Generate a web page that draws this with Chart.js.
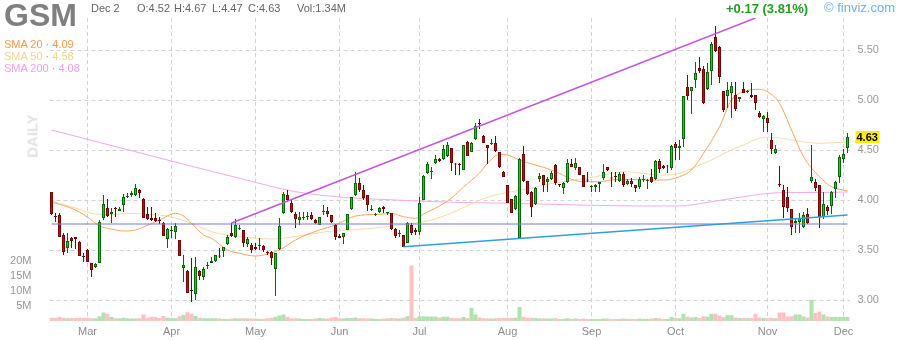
<!DOCTYPE html>
<html>
<head>
<meta charset="utf-8">
<script src="https://cdn.jsdelivr.net/npm/chart.js@4.4.1/dist/chart.umd.min.js"></script>
<style>
html, body { margin: 0; padding: 0; background: #fff; }
#wrap { position: relative; width: 900px; height: 340px; font-family: "Liberation Sans", Arial, sans-serif; overflow: hidden; }
#c { position: absolute; left: 0; top: 0; }
.t { position: absolute; white-space: nowrap; line-height: 1; }
.hd { font-size: 11px; color: #666; top: 3px; }
.sma { font-size: 11px; left: 4px; }
.dot { color: #aaa; }
</style>
</head>
<body>
<div id="wrap">
  <canvas id="c" width="900" height="340"></canvas>
  <div class="t" style="left:4px;top:-1px;font-weight:bold;font-size:32px;line-height:32px;color:#808080">GSM</div>
  <div class="t hd" style="left:91px">Dec 2</div>
  <div class="t hd" id="hO" style="left:137px"></div>
  <div class="t hd" id="hH" style="left:174px"></div>
  <div class="t hd" id="hL" style="left:212px"></div>
  <div class="t hd" id="hC" style="left:248px"></div>
  <div class="t hd" id="hV" style="left:297px"></div>
  <div class="t sma" style="top:39px;color:#ff9a4a">SMA 20 <span class="dot">·</span> <span id="s20"></span></div>
  <div class="t sma" style="top:51px;color:#f0d494">SMA 50 <span class="dot">·</span> <span id="s50"></span></div>
  <div class="t sma" style="top:63px;color:#f09ee6">SMA 200 <span class="dot">·</span> <span id="s200"></span></div>
  <div class="t" style="left:32px;top:136px;transform:translate(-50%,-50%) rotate(-90deg);font-weight:bold;font-size:15px;color:#e2e2e2">DAILY</div>
  <div class="t" id="chg" style="left:726px;top:2px;font-weight:bold;font-size:13px;color:#21a121"></div>
  <div class="t" style="left:824px;top:1px;font-size:13px;color:#6eb0ec">© finviz.com</div>
</div>
<script>
// trading days shown on the chart
const tradingDays = {
  Feb: [16,20,21,22,23,26,27,28,29],
  Mar: [1,4,5,6,7,8,11,12,13,14,15,18,19,20,21,22,25,26,27,28],
  Apr: [1,2,3,4,5,8,9,10,11,12,15,16,17,18,19,22,23,24,25,26,29,30],
  May: [1,2,3,6,7,8,9,10,13,14,15,16,17,20,21,22,23,24,28,29,30,31],
  Jun: [3,4,5,6,7,10,11,12,13,14,17,18,20,21,24,25,26,27,28],
  Jul: [1,2,3,5,8,9,10,11,12,15,16,17,18,19,22,23,24,25,26,29,30,31],
  Aug: [1,2,5,6,7,8,9,12,13,14,15,16,19,20,21,22,23,26,27,28,29,30],
  Sep: [3,4,5,6,9,10,11,12,13,16,17,18,19,20,23,24,25,26,27,30],
  Oct: [1,2,3,4,7,8,9,10,11,14,15,16,17,18,21,22,23,24,25,28,29,30,31],
  Nov: [1,4,5,6,7,8,11,12,13,14,15,18,19,20,21,22,25,26,27,29],
  Dec: [2]
};
const dates = Object.entries(tradingDays).flatMap(([m, ds]) => ds.map(d => m + " " + d));

const monthTickIdx = [9, 30, 51, 72, 92, 114, 135, 156, 179, 198];
const monthTickLbl = ["Mar", "Apr", "May", "Jun", "Jul", "Aug", "Sep", "Oct", "Nov", "Dec"];
const priceTicks = [3.0, 3.5, 4.0, 4.5, 5.0, 5.5];
const volTicks = [5, 10, 15, 20];

const opens = [
  4.08,3.84,3.85,3.65,3.52,3.62,3.63,3.58,3.44,3.50, 3.37,3.33,3.37,3.82,3.92,3.86,3.92,3.89,3.95,4.03,
  4.05,4.05,4.10,4.01,3.86,3.82,3.82,3.80,3.77,3.61, 3.69,3.68,3.60,3.32,3.29,3.10,3.06,3.29,3.23,3.34,
  3.37,3.39,3.44,3.49,3.56,3.67,3.63,3.71,3.70,3.56, 3.55,3.53,3.54,3.54,3.48,3.48,3.31,3.51,3.87,4.05,
  3.97,3.86,3.80,3.82,3.83,3.85,3.80,3.75,3.88,3.89, 3.85,3.75,3.64,3.63,3.70,3.91,4.05,4.17,4.10,4.05,
  3.90,3.85,3.88,3.93,3.87,3.87,3.71,3.66,3.65,3.57, 3.75,3.70,3.68,4.00,4.27,4.28,4.37,4.41,4.41,4.44,
  4.52,4.36,4.355,4.30,4.58,4.48,4.61,4.765,4.64,4.55, 4.56,4.57,4.48,4.28,4.15,4.01,3.91,3.62,4.46,4.19,
  4.08,3.96,4.21,4.25,4.18,4.21,4.35,4.155,4.12,4.18, 4.36,4.32,4.33,4.25,4.20,4.13,4.13,4.16,4.22,4.33,
  4.22,4.235,4.19,4.26,4.16,4.19,4.15,4.13,4.20,4.19, 4.23,4.21,4.39,4.34,4.335,4.32,4.56,4.52,4.61,5.13,
  5.09,5.20,5.32,5.31,5.11,5.29,5.63,5.53,5.09,5.04, 5.07,5.05,5.01,5.11,5.08,5.05,5.05,4.87,4.81,4.82,
  4.60,4.47,4.155,4.10,4.03,3.91,3.77,3.78,3.73,3.86, 4.19,4.18,4.15,3.83,3.93,3.94,4.11,4.23,4.41,4.52
];
const highs = [
  4.08,3.87,3.87,3.67,3.67,3.63,3.63,3.59,3.47,3.51, 3.37,3.37,3.80,4.05,4.01,3.92,3.93,3.93,4.06,4.07,
  4.09,4.16,4.11,4.02,3.93,3.93,3.87,3.83,3.78,3.72, 3.74,3.77,3.60,3.45,3.30,3.42,3.43,3.30,3.33,3.38,
  3.43,3.45,3.52,3.53,3.65,3.77,3.81,3.75,3.70,3.63, 3.57,3.57,3.62,3.55,3.49,3.49,3.47,3.82,4.08,4.10,
  4.01,3.88,3.88,3.88,3.88,3.88,3.81,3.83,3.95,3.93, 3.85,3.76,3.66,3.67,3.86,4.03,4.28,4.22,4.15,4.05,
  3.95,3.87,3.93,3.94,3.88,3.87,3.72,3.70,3.65,3.78, 3.77,3.72,4.03,4.25,4.38,4.33,4.45,4.42,4.55,4.58,
  4.52,4.37,4.37,4.55,4.59,4.58,4.77,4.81,4.65,4.55, 4.61,4.64,4.48,4.29,4.15,4.01,4.05,4.42,4.54,4.19,
  4.09,4.13,4.27,4.25,4.23,4.29,4.36,4.16,4.18,4.41, 4.41,4.42,4.33,4.25,4.28,4.15,4.16,4.18,4.36,4.33,
  4.28,4.28,4.28,4.28,4.21,4.22,4.15,4.23,4.25,4.21, 4.31,4.40,4.41,4.35,4.35,4.55,4.58,4.60,5.04,5.25,
  5.13,5.38,5.43,5.34,5.37,5.58,5.74,5.54,5.09,5.18, 5.18,5.18,5.03,5.18,5.10,5.17,5.05,4.89,4.85,4.88,
  4.67,4.55,4.34,4.15,4.13,3.91,3.82,3.87,3.88,3.92, 4.55,4.21,4.15,4.08,3.95,4.09,4.19,4.45,4.51,4.67
];
const lows = [
  3.85,3.78,3.63,3.45,3.47,3.52,3.51,3.44,3.38,3.38, 3.23,3.32,3.37,3.80,3.83,3.77,3.83,3.89,3.88,4.02,
  4.03,4.04,4.02,3.82,3.80,3.79,3.78,3.76,3.64,3.52, 3.62,3.61,3.44,3.18,3.07,2.98,3.00,3.20,3.20,3.31,
  3.37,3.38,3.42,3.43,3.55,3.63,3.62,3.70,3.53,3.53, 3.47,3.50,3.50,3.48,3.45,3.35,3.04,3.50,3.86,3.98,
  3.87,3.72,3.75,3.80,3.80,3.80,3.76,3.75,3.85,3.83, 3.77,3.60,3.62,3.56,3.70,3.90,4.04,4.08,4.00,3.89,
  3.89,3.84,3.87,3.87,3.85,3.70,3.62,3.63,3.53,3.57, 3.65,3.65,3.65,4.00,4.26,4.21,4.36,4.38,4.40,4.43,
  4.29,4.25,4.25,4.30,4.44,4.48,4.60,4.71,4.57,4.36, 4.55,4.48,4.32,4.23,3.97,3.87,3.90,3.62,4.18,4.05,
  3.83,3.95,4.18,4.08,4.08,4.20,4.15,4.13,4.06,4.17, 4.33,4.30,4.25,4.13,4.18,4.08,4.08,4.08,4.20,4.29,
  4.13,4.18,4.18,4.13,4.15,4.13,4.08,4.11,4.18,4.11, 4.17,4.20,4.27,4.31,4.27,4.30,4.40,4.40,4.53,5.00,
  4.86,5.12,5.27,4.96,5.10,5.15,5.48,5.17,4.88,4.92, 4.82,4.89,4.98,5.07,5.07,5.02,4.90,4.82,4.68,4.68,
  4.46,4.46,4.13,3.82,3.88,3.65,3.67,3.67,3.72,3.76, 4.17,4.09,3.72,3.81,3.85,3.86,4.02,4.17,4.37,4.47
];
const closes = [
  3.86,3.83,3.63,3.48,3.59,3.59,3.61,3.44,3.43,3.38, 3.30,3.36,3.78,3.96,3.84,3.88,3.91,3.91,4.03,4.04,
  4.07,4.12,4.07,3.82,3.81,3.80,3.79,3.79,3.64,3.71, 3.70,3.74,3.44,3.35,3.07,3.09,3.33,3.24,3.31,3.35,
  3.39,3.45,3.435,3.53,3.63,3.64,3.75,3.72,3.57,3.61, 3.50,3.51,3.55,3.50,3.47,3.42,3.47,3.74,4.06,4.00,
  3.88,3.81,3.83,3.83,3.84,3.81,3.77,3.83,3.89,3.86, 3.78,3.63,3.62,3.67,3.86,4.03,4.17,4.10,4.02,3.95,
  3.90,3.85,3.92,3.91,3.87,3.71,3.64,3.66,3.53,3.77, 3.67,3.68,3.97,4.24,4.36,4.285,4.41,4.39,4.51,4.55,
  4.37,4.355,4.35,4.55,4.44,4.57,4.74,4.76,4.57,4.52, 4.565,4.49,4.33,4.23,3.97,3.87,4.04,4.41,4.19,4.06,
  3.93,4.12,4.24,4.15,4.21,4.27,4.17,4.15,4.17,4.37, 4.33,4.37,4.25,4.13,4.195,4.135,4.15,4.18,4.28,4.30,
  4.215,4.23,4.26,4.15,4.19,4.16,4.12,4.21,4.205,4.20, 4.18,4.39,4.31,4.32,4.34,4.54,4.52,4.54,5.04,5.04,
  5.13,5.27,5.29,4.97,5.28,5.56,5.49,5.23,4.90,5.10, 5.14,4.91,5.03,5.07,5.085,5.03,4.97,4.83,4.84,4.77,
  4.51,4.51,4.15,3.93,3.92,3.73,3.79,3.82,3.85,3.77, 4.23,4.12,3.83,3.96,3.89,4.08,4.18,4.43,4.46,4.63
];
// volume, millions of shares
const volumes = [
  1.1,1.1,1.3,1.1,0.9,1.0,1.0,1.1,1.0,1.1, 0.9,0.9,1.6,2.8,2.4,1.3,0.9,0.9,1.1,0.9,
  0.8,0.8,0.9,2.2,1.1,1.4,1.3,1.0,1.7,1.1, 1.0,0.9,1.6,2.0,2.9,2.4,1.7,1.1,0.9,0.9,
  0.9,0.9,0.8,0.7,0.7,0.8,0.9,0.8,0.9,0.8, 0.8,0.8,0.7,0.7,0.9,1.1,1.4,1.8,2.2,1.3,
  0.9,0.9,0.8,0.7,0.7,0.7,0.8,1.0,0.8,0.8, 1.2,1.3,0.9,0.8,1.0,1.0,1.2,0.9,0.9,0.8,
  0.8,0.7,0.7,0.8,0.8,1.0,0.9,0.8,1.1,1.6, 18.5,1.0,1.6,1.6,1.5,1.5,1.5,1.2,1.4,1.4,
  1.0,0.9,0.9,1.3,1.0,4.4,2.2,1.2,0.9,0.8, 0.8,0.9,1.0,1.0,1.1,1.0,1.1,4.7,1.4,1.1,
  1.1,1.0,0.8,0.9,0.8,0.8,0.9,0.7,0.7,0.9, 0.7,0.8,0.7,0.8,0.7,0.7,0.7,0.7,0.8,0.8,
  0.7,0.7,0.7,0.8,0.7,0.7,0.7,0.8,0.7,0.7, 0.8,1.0,0.9,0.7,0.7,1.3,1.0,0.9,2.4,1.4,
  1.2,1.3,1.0,1.6,1.4,2.4,2.4,1.8,1.3,1.9, 1.9,1.2,1.0,1.0,0.9,1.0,2.4,1.2,1.0,1.0,
  1.1,0.9,2.8,2.8,1.5,1.6,2.2,2.2,1.5,1.2, 7.1,2.7,3.2,2.2,1.5,1.3,1.3,1.3,1.3,1.34
];

// moving averages at sample candles
const sma20Idx = [0,6,10,12,15,18,21,23,27,31,33,35,38,40,44,47,51,54,57,61,63,67,71,76,82,85,88,91,93,97,100,103,107,109,112,114,117,120,123,127,130,133,137,140,144,149,153,157,160,163,167,170,173,177,179,182,185,188,192,195,199];
const sma20Val = [3.98,3.90,3.80,3.74,3.71,3.69,3.70,3.73,3.80,3.867,3.84,3.77,3.65,3.617,3.50,3.467,3.44,3.46,3.50,3.60,3.64,3.70,3.75,3.84,3.857,3.867,3.833,3.817,3.86,3.94,4.02,4.13,4.27,4.367,4.457,4.45,4.40,4.36,4.327,4.267,4.207,4.183,4.183,4.20,4.207,4.20,4.20,4.233,4.30,4.467,4.733,5.00,5.083,5.107,5.083,4.967,4.70,4.433,4.233,4.133,4.09];
const sma50Idx = [0,6,11,15,20,27,30,35,40,44,49,55,60,65,70,75,81,87,91,95,100,106,110,115,120,123,128,132,136,140,144,148,153,157,161,165,169,173,177,180,186,192,199];
const sma50Val = [3.99,3.92,3.86,3.855,3.865,3.85,3.83,3.767,3.683,3.65,3.625,3.61,3.63,3.66,3.69,3.70,3.72,3.75,3.77,3.80,3.87,3.98,4.04,4.083,4.117,4.15,4.183,4.207,4.233,4.267,4.283,4.265,4.25,4.267,4.333,4.40,4.483,4.55,4.617,4.627,4.593,4.567,4.58];
const sma200Idx = [0,48,61,73,86,98,115,132,148,157,165,173,182,190,199];
const sma200Val = [4.70,4.207,4.083,4.027,4.00,3.98,3.967,3.95,3.94,3.94,3.983,4.033,4.073,4.075,4.08];

// drawn trend lines: [candle, price] end points
const upperTrend = [[45, 3.77], [176, 5.82]];
const lowerTrend = [[88, 3.533], [199, 3.85]];
const flatLine = [[0, 3.76], [199, 3.76]];

const up = closes.map((c, i) => c >= opens[i]);
const last = closes.length - 1;
const f2 = (v) => v.toFixed(2);

document.getElementById("hO").textContent = "O:" + f2(opens[last]);
document.getElementById("hH").textContent = "H:" + f2(highs[last]);
document.getElementById("hL").textContent = "L:" + f2(lows[last]);
document.getElementById("hC").textContent = "C:" + f2(closes[last]);
document.getElementById("hV").textContent = "Vol:" + volumes[last].toFixed(2) + "M";
document.getElementById("s20").textContent = f2(sma20Val[sma20Val.length - 1]);
document.getElementById("s50").textContent = f2(sma50Val[sma50Val.length - 1]);
document.getElementById("s200").textContent = f2(sma200Val[sma200Val.length - 1]);
const chg = closes[last] - closes[last - 1];
document.getElementById("chg").textContent =
  "+" + f2(chg) + " (" + (chg / closes[last - 1] * 100).toFixed(2) + "%)";

const pts = (idx, vals) => idx.map((i, k) => ({ x: dates[i], y: vals[k] }));
const seg = (p) => p.map(([i, v]) => ({ x: dates[i], y: v }));

const lineDs = (data, color, width, order) => ({
  type: "line", data, yAxisID: "y", borderColor: color, borderWidth: width,
  pointRadius: 0, cubicInterpolationMode: "monotone", order
});

const lastTag = {
  id: "lastTag",
  afterDraw(chart) {
    const { ctx, chartArea, scales } = chart;
    const py = Math.round(scales.y.getPixelForValue(closes[last]));
    const x = chartArea.right + 6;
    ctx.save();
    ctx.fillStyle = "#ffee00";
    ctx.fillRect(x, py - 6, 24, 12);
    ctx.fillStyle = "#000";
    ctx.font = "bold 11px 'Liberation Sans', Arial";
    ctx.textBaseline = "middle";
    ctx.fillText(f2(closes[last]), x + 1, py + 0.5);
    ctx.restore();
  }
};

const axisFont = { family: "'Liberation Sans', Arial", size: 11 };

new Chart(document.getElementById("c"), {
  type: "bar",
  data: {
    labels: dates,
    datasets: [
      lineDs(seg(upperTrend), "#c455dd", 1.5, 0),
      lineDs(seg(lowerTrend), "#2ba2dc", 1.5, 0),
      lineDs(seg(flatLine), "#7878dc", 1, 0),
      {
        data: opens.map((o, i) => [o, closes[i]]), yAxisID: "y",
        backgroundColor: up.map(u => u ? "#00e000" : "#e00000"),
        borderColor: up.map(u => u ? "#006a00" : "#780000"),
        borderWidth: 1, borderSkipped: false, barThickness: 3, minBarLength: 1,
        grouped: false, inflateAmount: 0, order: 1
      },
      {
        data: lows.map((l, i) => [l, highs[i]]), yAxisID: "y",
        backgroundColor: up.map(u => u ? "#006a00" : "#780000"),
        barThickness: 1, grouped: false, inflateAmount: 0, order: 2
      },
      lineDs(pts(sma20Idx, sma20Val), "#ffa35c", 1, 3),
      lineDs(pts(sma50Idx, sma50Val), "#f5dba6", 1, 3),
      lineDs(pts(sma200Idx, sma200Val), "#f1a9e9", 1, 3),
      {
        data: volumes, yAxisID: "yv",
        backgroundColor: up.map(u => u ? "#b0e2b0" : "#fbc2c2"),
        barPercentage: 1, categoryPercentage: 1, grouped: false, inflateAmount: 0, order: 4
      }
    ]
  },
  options: {
    responsive: false,
    animation: false,
    devicePixelRatio: 1,
    layout: { padding: { top: 18, left: 0, right: 0, bottom: 0 } },
    plugins: { legend: { display: false }, tooltip: { enabled: false } },
    scales: {
      x: {
        offset: true,
        grid: { offset: false, color: "#d2d2d2", drawTicks: false },
        border: { display: false, dash: [4, 3] },
        ticks: {
          autoSkip: false, maxRotation: 0, padding: 4, color: "#8c8c8c", font: axisFont,
          callback: (v) => monthTickLbl[monthTickIdx.indexOf(v)]
        },
        afterBuildTicks: (s) => { s.ticks = monthTickIdx.map(i => ({ value: i })); },
        afterFit: (s) => { s.height = 19; }
      },
      y: {
        position: "right", min: 2.79, max: 5.82,
        grid: { color: "#d2d2d2", drawTicks: false },
        border: { display: false, dash: [4, 3] },
        ticks: { padding: 8, color: "#999", font: axisFont, callback: (v) => f2(v) },
        afterBuildTicks: (s) => { s.ticks = priceTicks.map(v => ({ value: v })); },
        afterFit: (s) => { s.width = 50.5; }
      },
      yv: {
        position: "left", min: 0, max: 101,
        grid: { display: false },
        border: { display: false },
        ticks: { padding: 10, color: "#999", font: axisFont, callback: (v) => v + "M" },
        afterBuildTicks: (s) => { s.ticks = volTicks.map(v => ({ value: v })); },
        afterFit: (s) => { s.width = 49.5; }
      }
    }
  },
  plugins: [lastTag]
});
</script>
</body>
</html>
